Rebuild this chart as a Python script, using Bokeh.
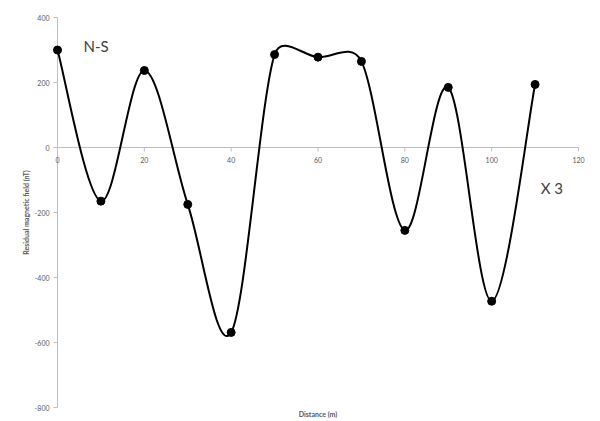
import math
import numpy as np
from bokeh.plotting import figure
from bokeh.models import Range1d, ColumnDataSource
from bokeh.core.properties import value
from bokeh.embed import file_html
from bokeh.resources import INLINE

# ---- data ----
distance = [0, 10, 20, 30, 40, 50, 60, 70, 80, 90, 100, 110]
field = [300, -165, 237, -175, -569, 286, 278, 265, -255, 185, -473, 194]
x_ticks = [0, 20, 40, 60, 80, 100, 120]
y_ticks = [-800, -600, -400, -200, 0, 200, 400]

# ---- layout (pixels) ----
W, H = 600, 421
PL, PR, PT, PB = 57, 578, 17, 407   # plot area edges on the canvas
XMIN, XMAX, YMIN, YMAX = 0, 120, -800, 400
kx = (PR - PL) / (XMAX - XMIN)
ky = (PB - PT) / (YMAX - YMIN)
x_range = Range1d(XMIN - PL / kx, XMAX + (W - PR) / kx)
y_range = Range1d(YMIN - (H - PB) / ky, YMAX + PT / ky)

# Excel-like smoothed curve: cubic Bezier segments computed in screen space
P = np.column_stack([np.array(distance) * kx, np.array(field) * ky])
n = len(P)
segs = dict(x0=[], y0=[], x1=[], y1=[], cx0=[], cy0=[], cx1=[], cy1=[])
for i in range(n - 1):
    p0 = P[i - 1] if i > 0 else P[i]
    p1, p2 = P[i], P[i + 1]
    p3 = P[i + 2] if i + 2 < n else P[i + 1]
    d12 = np.linalg.norm(p2 - p1)
    d02 = np.linalg.norm(p2 - p0)
    d13 = np.linalg.norm(p3 - p1)
    f1 = min(1 / 6, d12 / 2 / d02) if d02 > 0 else 0
    f2 = min(1 / 6, d12 / 2 / d13) if d13 > 0 else 0
    c1 = p1 + f1 * (p2 - p0)
    c2 = p2 - f2 * (p3 - p1)
    segs["x0"].append(p1[0] / kx); segs["y0"].append(p1[1] / ky)
    segs["x1"].append(p2[0] / kx); segs["y1"].append(p2[1] / ky)
    segs["cx0"].append(c1[0] / kx); segs["cy0"].append(c1[1] / ky)
    segs["cx1"].append(c2[0] / kx); segs["cy1"].append(c2[1] / ky)

p = figure(width=W, height=H, output_backend="svg", toolbar_location=None,
           x_range=x_range, y_range=y_range,
           x_axis_location=None, y_axis_location=None,
           min_border=0)
p.outline_line_color = None
p.xgrid.visible = False
p.ygrid.visible = False
p.background_fill_color = "white"
p.border_fill_color = "white"

FONT = value("Lato")
AX = "#BFBFBF"
TXT = "#595959"
TICK = 4

# y axis at x = 0
p.segment(x0=[0], y0=[YMIN], x1=[0], y1=[YMAX], line_color=AX, line_width=1)
p.segment(x0=[0] * len(y_ticks), y0=y_ticks, x1=[-TICK / kx] * len(y_ticks),
          y1=y_ticks, line_color=AX, line_width=1)
p.text(x=[0] * len(y_ticks), y=y_ticks, text=[str(t) for t in y_ticks],
       text_font=FONT, text_font_size="7px", text_color=TXT,
       text_align="right", text_baseline="middle", x_offset=-8)
p.text(x=[(25 - PL) / kx], y=[(YMIN + YMAX) / 2],
       text=["Residual magnetic field (nT)"], angle=math.pi / 2,
       text_font=FONT, text_font_size="7px", text_font_style="bold",
       text_color=TXT, text_align="center", text_baseline="middle")

# x axis at y = 0
p.segment(x0=[XMIN], y0=[0], x1=[XMAX], y1=[0], line_color=AX, line_width=1)
p.segment(x0=x_ticks, y0=[0] * len(x_ticks), x1=x_ticks,
          y1=[-TICK / ky] * len(x_ticks), line_color=AX, line_width=1)
p.text(x=x_ticks, y=[0] * len(x_ticks), text=[str(t) for t in x_ticks],
       text_font=FONT, text_font_size="7px", text_color=TXT,
       text_align="center", text_baseline="middle", y_offset=12)
p.text(x=[(XMIN + XMAX) / 2], y=[YMIN], text=["Distance (m)"],
       text_font=FONT, text_font_size="7px", text_font_style="bold",
       text_color=TXT, text_align="center", text_baseline="middle",
       y_offset=6)

# curve and points
p.bezier(source=ColumnDataSource(segs), x0="x0", y0="y0", x1="x1", y1="y1",
         cx0="cx0", cy0="cy0", cx1="cx1", cy1="cy1",
         line_color="black", line_width=2)
p.scatter(distance, field, size=8, color="black")

# annotations
p.text(x=[6], y=[311], text=["N-S"], text_font=FONT, text_font_size="15px",
       text_color="#404040", text_align="left", text_baseline="middle")
p.text(x=[111.3], y=[-126], text=["X 3"], text_font=FONT,
       text_font_size="15px", text_color="#404040", text_align="left",
       text_baseline="middle")

open("out.html", "w").write(file_html(p, INLINE))
